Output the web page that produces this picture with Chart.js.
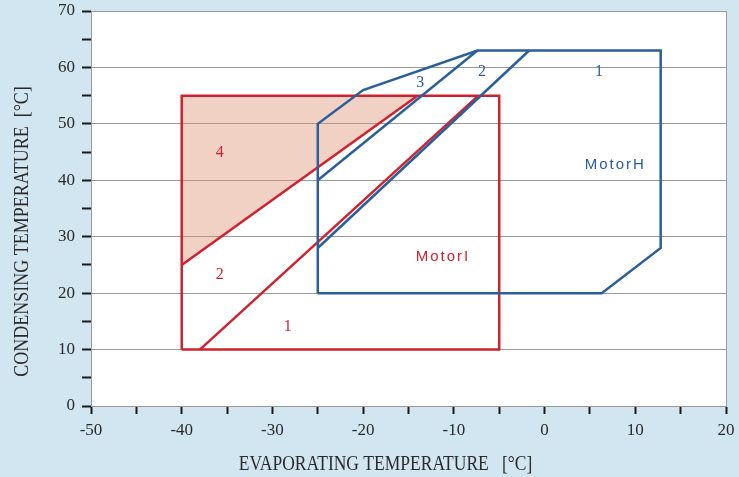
<!DOCTYPE html>
<html>
<head>
<meta charset="utf-8">
<script src="https://cdn.jsdelivr.net/npm/chart.js@4.4.1/dist/chart.umd.min.js"></script>
<style>
  html, body { margin: 0; padding: 0; background: #d2e6f2; }
  #wrap { width: 739px; height: 477px; position: relative; }
</style>
</head>
<body>
<div id="wrap"><canvas id="chart"></canvas></div>
<script>
// Axis ranges / ticks
const xRange = [-50, 20];
const yRange = [0, 70];
const tickStep = 5;
const labelStep = 10;

// MotorI envelope (red)
const motorIBox = [[-40, 10], [-5, 10], [-5, 55], [-40, 55], [-40, 10]];
const motorIDivider = [[-38, 10], [-7.3, 55]];
const motorIZone4 = [[-40, 25], [-14, 55]];   // filled up to y = 55
const motorIZone4Top = 55;

// MotorH envelope (blue)
const motorHBox = [[-25, 20], [6.3, 20], [12.8, 28], [12.8, 63], [-7.4, 63], [-20, 56], [-25, 50], [-25, 20]];
const motorHDivider3 = [[-25, 40], [-7.4, 63]];
const motorHDivider2 = [[-25, 28], [-1.7, 63]];

// Region labels: [text, x, y]
const motorILabels = [['4', -35.8, 45], ['2', -35.8, 23.3], ['1', -28.3, 14.1]];
const motorHLabels = [['3', -13.7, 57.3], ['2', -6.9, 59.3], ['1', 6.0, 59.3]];
const motorINameLabel = ['MotorI', -11.2, 26.4];
const motorHNameLabel = ['MotorH', 7.8, 42.7];

const xTitle = 'EVAPORATING TEMPERATURE   [°C]';
const yTitle = 'CONDENSING TEMPERATURE  [°C]';

const RED = '#d0222e';
const BLUE = '#2b5f9a';
const SERIF = '"Liberation Serif", "Times New Roman", serif';
const SANS = '"Liberation Sans", Arial, sans-serif';

const toPts = arr => arr.map(p => ({ x: p[0], y: p[1] }));

function lineSet(points, color, extra) {
  return Object.assign({
    data: toPts(points),
    showLine: true,
    borderColor: color,
    borderWidth: 2.5,
    pointRadius: 0,
    fill: false,
    tension: 0
  }, extra || {});
}

// text a bit taller than wide, like the original print
function tallText(ctx, text, px, py, sy) {
  ctx.save();
  ctx.translate(px, py);
  ctx.scale(1, sy);
  ctx.fillText(text, 0, 0);
  ctx.restore();
}

// white plot area + labels + axis titles
const plotDecor = {
  id: 'plotDecor',
  beforeDraw(chart) {
    const { ctx, chartArea: a } = chart;
    ctx.save();
    ctx.fillStyle = '#ffffff';
    ctx.fillRect(a.left, a.top, a.right - a.left, a.bottom - a.top);
    ctx.restore();
  },
  afterDatasetsDraw(chart) {
    const { ctx, scales: { x, y }, chartArea: a } = chart;
    ctx.save();
    ctx.textAlign = 'center';
    ctx.textBaseline = 'middle';

    ctx.font = '16px ' + SERIF;
    ctx.fillStyle = RED;
    motorILabels.forEach(l => tallText(ctx, l[0], x.getPixelForValue(l[1]), y.getPixelForValue(l[2]), 1.1));
    ctx.fillStyle = BLUE;
    motorHLabels.forEach(l => tallText(ctx, l[0], x.getPixelForValue(l[1]), y.getPixelForValue(l[2]), 1.1));

    ctx.font = '15px ' + SANS;
    ctx.letterSpacing = '2px';
    ctx.fillStyle = RED;
    ctx.fillText(motorINameLabel[0], x.getPixelForValue(motorINameLabel[1]), y.getPixelForValue(motorINameLabel[2]));
    ctx.fillStyle = BLUE;
    ctx.fillText(motorHNameLabel[0], x.getPixelForValue(motorHNameLabel[1]), y.getPixelForValue(motorHNameLabel[2]));
    ctx.letterSpacing = '0px';

    // axis titles
    ctx.fillStyle = '#2a2a2a';
    ctx.textBaseline = 'alphabetic';
    ctx.font = '17.5px ' + SERIF;
    tallText(ctx, xTitle, (a.left + a.right) / 2 - 23, 470, 1.2);
    ctx.font = '18px ' + SERIF;
    ctx.translate(28, (a.top + a.bottom) / 2 + 23);
    ctx.rotate(-Math.PI / 2);
    tallText(ctx, yTitle, 0, 0, 1.15);
    ctx.restore();
  }
};

const tickFont = { family: SERIF, size: 17 };

new Chart(document.getElementById('chart'), {
  type: 'scatter',
  data: {
    datasets: [
      lineSet(motorHBox, BLUE),
      lineSet(motorHDivider3, BLUE),
      lineSet(motorHDivider2, BLUE),
      lineSet(motorIBox, RED),
      lineSet(motorIDivider, RED),
      lineSet(motorIZone4, RED, {
        fill: { value: motorIZone4Top },
        backgroundColor: 'rgba(222, 145, 115, 0.42)'
      })
    ]
  },
  options: {
    responsive: true,
    maintainAspectRatio: false,
    animation: false,
    layout: { padding: { top: 11, right: 13, left: 0, bottom: 0 } },
    plugins: {
      legend: { display: false },
      tooltip: { enabled: false }
    },
    scales: {
      x: {
        type: 'linear',
        min: xRange[0],
        max: xRange[1],
        afterFit: s => { s.height = 71; s.paddingLeft = 0; s.paddingRight = 0; },
        border: { color: '#999999', width: 1 },
        grid: {
          color: c => (c.tick && c.tick.value === xRange[1]) ? '#999999' : 'rgba(0,0,0,0)',
          tickColor: '#1a1a1a',
          tickLength: 8,
          tickWidth: 2
        },
        ticks: {
          stepSize: tickStep,
          color: '#2a2a2a',
          font: tickFont,
          padding: 6,
          maxRotation: 0,
          autoSkip: false,
          callback: v => (v % labelStep === 0 ? v : '')
        }
      },
      y: {
        type: 'linear',
        min: yRange[0],
        max: yRange[1],
        afterFit: s => { s.width = 91; s.paddingTop = 0; s.paddingBottom = 0; },
        border: { color: '#999999', width: 1 },
        grid: {
          color: c => (c.tick && c.tick.value % labelStep === 0) ? '#999999' : 'rgba(0,0,0,0)',
          tickColor: '#1a1a1a',
          tickLength: 9,
          tickWidth: 2
        },
        ticks: {
          stepSize: tickStep,
          color: '#2a2a2a',
          font: tickFont,
          padding: 7,
          autoSkip: false,
          callback: v => (v % labelStep === 0 ? v : '')
        }
      }
    }
  },
  plugins: [plotDecor]
});
</script>
</body>
</html>
